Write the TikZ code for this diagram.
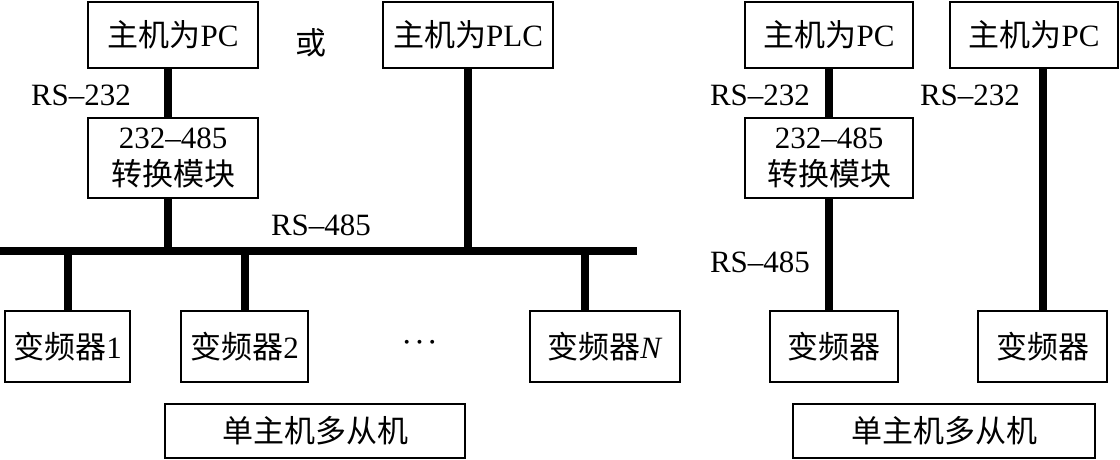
\documentclass[tikz,border=0pt]{standalone}
\usepackage{amsmath}
\usepackage{fontspec}
\setmainfont{Liberation Serif}
\newfontfamily\cjk{Noto Sans CJK SC}
\usetikzlibrary{positioning,calc}

\tikzset{
	unit/.style={draw, line width=2pt, minimum width=170pt, minimum height=66pt,
		inner sep=0pt, align=center, font=\fontsize{31pt}{37pt}\selectfont},
	wire/.style={line width=8pt},
	lbl/.style={inner sep=0pt, font=\fontsize{31pt}{37pt}\selectfont}
}

\begin{document}
\begin{tikzpicture}[x=1pt,y=-1pt]
	\useasboundingbox (0,0) rectangle (1120,459);
	% left: PC or PLC on the RS-485 bus
	\node[unit] (pcL) at (173,35) {{\cjk 主机为}PC};
	\node[lbl] (or) at (311,43) {\cjk 或};
	\node[unit] (plc) at (468,35) {{\cjk 主机为}PLC};
	\node[unit, minimum height=80pt] (convL) at (173,158) {232--485\\{\cjk 转换模块}};
	\node[lbl] (rs232L) at (81,95) {RS--232};
	\node[lbl] (rs485L) at (321,225) {RS--485};
	\coordinate (busW) at (0,251);
	\coordinate (busE) at (637,251);
	\node[unit, minimum width=125pt, minimum height=71pt] (vfd1) at (67.5,346.5) {{\cjk 变频器}1};
	\node[unit, minimum width=127pt, minimum height=71pt] (vfd2) at (244.5,346.5) {{\cjk 变频器}2};
	\node[lbl, font=\fontsize{36pt}{40pt}\selectfont] (dots) at (422,343) {$\boldsymbol{\cdots}$};
	\node[unit, minimum width=150pt, minimum height=71pt] (vfdN) at (605,346.5) {{\cjk 变频器}\textit{N}};
	\node[unit, minimum width=300pt, minimum height=54pt] (capL) at (315,431) {\cjk 单主机多从机};
	\draw[wire] ([xshift=-5pt]pcL.south) -- ([xshift=-5pt]convL.north);
	\draw[wire] ([xshift=-5pt]convL.south) -- ([xshift=-5pt]convL.south |- busW);
	\draw[wire] (plc.south) -- (plc.south |- busW);
	\draw[wire] (busW) -- (busE);
	\draw[wire] (vfd1.north |- busW) -- (vfd1.north);
	\draw[wire] (vfd2.north |- busW) -- (vfd2.north);
	\draw[wire] ([xshift=-20pt]vfdN.north |- busW) -- ([xshift=-20pt]vfdN.north);
	% right: two single links
	\node[unit, minimum width=168pt] (pcR1) at (829,35) {{\cjk 主机为}PC};
	\node[unit, minimum width=168pt] (pcR2) at (1034,35) {{\cjk 主机为}PC};
	\node[unit, minimum width=168pt, minimum height=80pt] (convR) at (829,158) {232--485\\{\cjk 转换模块}};
	\node[lbl] (rs232R1) at (760,95) {RS--232};
	\node[lbl] (rs232R2) at (970,95) {RS--232};
	\node[lbl] (rs485R) at (760,262) {RS--485};
	\node[unit, minimum width=128pt, minimum height=71pt] (vfdR1) at (834,346.5) {\cjk 变频器};
	\node[unit, minimum width=129pt, minimum height=71pt] (vfdR2) at (1042.5,346.5) {\cjk 变频器};
	\node[unit, minimum width=302pt, minimum height=54pt] (capR) at (944,431) {\cjk 单主机多从机};
	\draw[wire] (pcR1.south) -- (convR.north);
	\draw[wire] (convR.south) -- (convR.south |- vfdR1.north);
	\draw[wire] (pcR2.south -| vfdR2.north) -- (vfdR2.north);
\end{tikzpicture}
\end{document}
